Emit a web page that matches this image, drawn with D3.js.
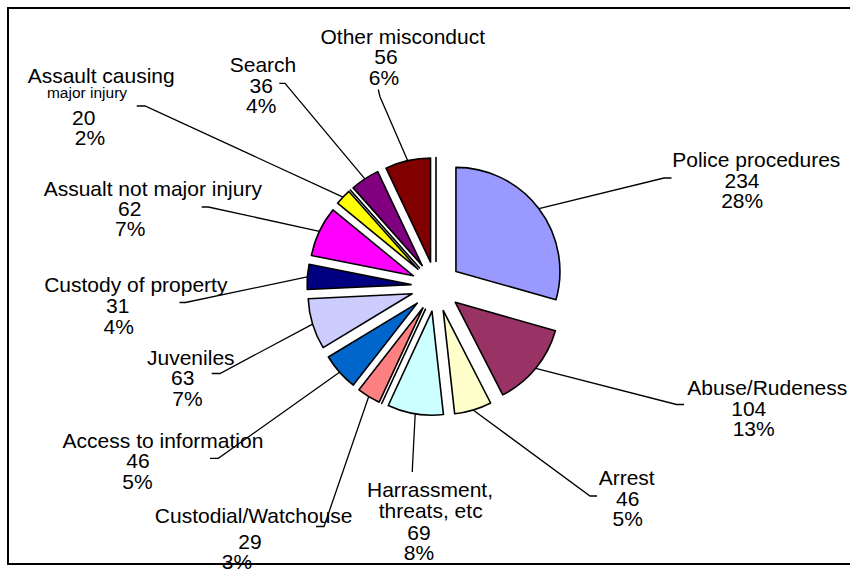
<!DOCTYPE html>
<html>
<head>
<meta charset="utf-8">
<script src="https://cdn.jsdelivr.net/npm/d3@7"></script>
<style>
  html, body { margin: 0; padding: 0; background: #fff; }
  svg { display: block; }
  text { font-family: "Liberation Sans", Arial, sans-serif; fill: #000; }
</style>
</head>
<body>
<svg id="chart" width="850" height="569"></svg>
<script>
// Complaint categories, clockwise from 12 o'clock. Empty names are categories with no complaints.
const categories = [
  "Police procedures", "Abuse/Rudeness", "Arrest", "Harrassment,\nthreats, etc", "",
  "Custodial/Watchouse", "Access to information", "Juveniles", "Custody of property",
  "Assualt not major injury", "Assault causing\nmajor injury", "", "Search", "Other misconduct", ""
];
const counts = [234, 104, 46, 69, 0, 29, 46, 63, 31, 62, 20, 0, 36, 56, 0];
const shares = ["28%", "13%", "5%", "8%", "", "3%", "5%", "7%", "4%", "7%", "2%", "", "4%", "6%", ""];

// Slice fills
const colors = [
  "#9999FF", "#993366", "#FFFFCC", "#CCFFFF", "#FFFFFF", "#FF8080", "#0066CC", "#CCCCFF",
  "#000080", "#FF00FF", "#FFFF00", "#FFFFFF", "#800080", "#800000", "#FFFFFF"
];

// Pie geometry
const centre = [436, 286.5];
const radius = 104;
const explode = 25;

// Label placement: [centre x, baseline] for each text line, leader elbow and end point.
const labelLayout = [
  { lines: [[756.3, 166.7], [742, 188.3], [742.2, 208.3]], elbow: [664, 178], end: [671.5, 178] },
  { lines: [[767.3, 395], [748.8, 416], [753.7, 436]], elbow: [676.5, 404.5], end: [684, 404.5] },
  { lines: [[626.7, 485], [627.7, 506], [627.7, 526]], elbow: [590, 496], end: [597, 496] },
  { lines: [[430, 496.7], [430.7, 518.3], [419, 540], [419, 560]], elbow: [412.4, 468], end: [412.3, 472] },
  null,
  { lines: [[253.7, 523.3], [250, 549], [237, 569]], elbow: [324, 526.5], end: [316, 526.5] },
  { lines: [[163, 448.3], [138, 468.3], [137.5, 489]], elbow: [218.3, 458.3], end: [210, 458.3] },
  { lines: [[190.8, 365], [182.8, 385], [187.5, 406]], elbow: [220, 373.5], end: [211.7, 373.5] },
  { lines: [[135.8, 291.7], [117.8, 313.3], [118.7, 334]], elbow: [185.5, 302.5], end: [179.5, 302.5] },
  { lines: [[152.8, 196], [129.8, 215.7], [130.3, 236]], elbow: [208.3, 207], end: [201.7, 207] },
  { lines: [[101.2, 83.3], [87, 98.3], [83.8, 125], [90, 145]], small: [1], elbow: [145, 106], end: [136.7, 106] },
  null,
  { lines: [[263, 71.7], [261.3, 93.3], [261.3, 113.3]], elbow: [285, 83.3], end: [279.3, 83.3] },
  { lines: [[402.8, 44.3], [386, 64.3], [384, 85]], elbow: [380, 96.7], end: [378.3, 89.5] },
  null
];

const svg = d3.select("#chart");
svg.append("rect").attr("width", 850).attr("height", 569).attr("fill", "#fff");

const slices = d3.pie().sort(null).value(d => d).startAngle(0).endAngle(2 * Math.PI)(counts);
const arc = d3.arc().innerRadius(0).outerRadius(radius);
const midAngle = d => (d.startAngle + d.endAngle) / 2;

const pieG = svg.append("g").attr("transform", `translate(${centre[0]},${centre[1]})`);

// Every wedge is pulled out along its own bisector
pieG.selectAll("path.slice")
  .data(slices)
  .join("path")
  .attr("class", "slice")
  .attr("d", arc)
  .attr("transform", d => {
    const a = midAngle(d);
    return `translate(${explode * Math.sin(a)},${-explode * Math.cos(a)})`;
  })
  .attr("fill", (d, i) => colors[i])
  .attr("stroke", "#000")
  .attr("stroke-width", 1.6)
  .attr("stroke-linejoin", "round");

// Data labels: name line(s), count, share
const labelG = svg.append("g");
slices.forEach((d, i) => {
  const lay = labelLayout[i];
  if (!lay) return;
  const texts = categories[i].split("\n").concat([String(counts[i]), shares[i]]);
  texts.forEach((t, k) => {
    const small = lay.small && lay.small.includes(k);
    labelG.append("text")
      .attr("x", lay.lines[k][0])
      .attr("y", lay.lines[k][1])
      .attr("text-anchor", "middle")
      .style("font-size", small ? "15.5px" : "21px")
      .text(t);
  });
});

// Leader lines from each wedge's outer rim to its label
const leaderG = svg.append("g");
slices.forEach((d, i) => {
  const lay = labelLayout[i];
  if (!lay) return;
  const a = midAngle(d);
  const rr = explode + radius;
  const start = [centre[0] + rr * Math.sin(a), centre[1] - rr * Math.cos(a)];
  leaderG.append("path")
    .attr("d", d3.line()([start, lay.elbow, lay.end]))
    .attr("fill", "none")
    .attr("stroke", "#000")
    .attr("stroke-width", 1.3);
});

// Chart-area frame
svg.append("rect")
  .attr("x", 8).attr("y", 8)
  .attr("width", 860).attr("height", 556)
  .attr("fill", "none")
  .attr("stroke", "#000")
  .attr("stroke-width", 2);
</script>
</body>
</html>
